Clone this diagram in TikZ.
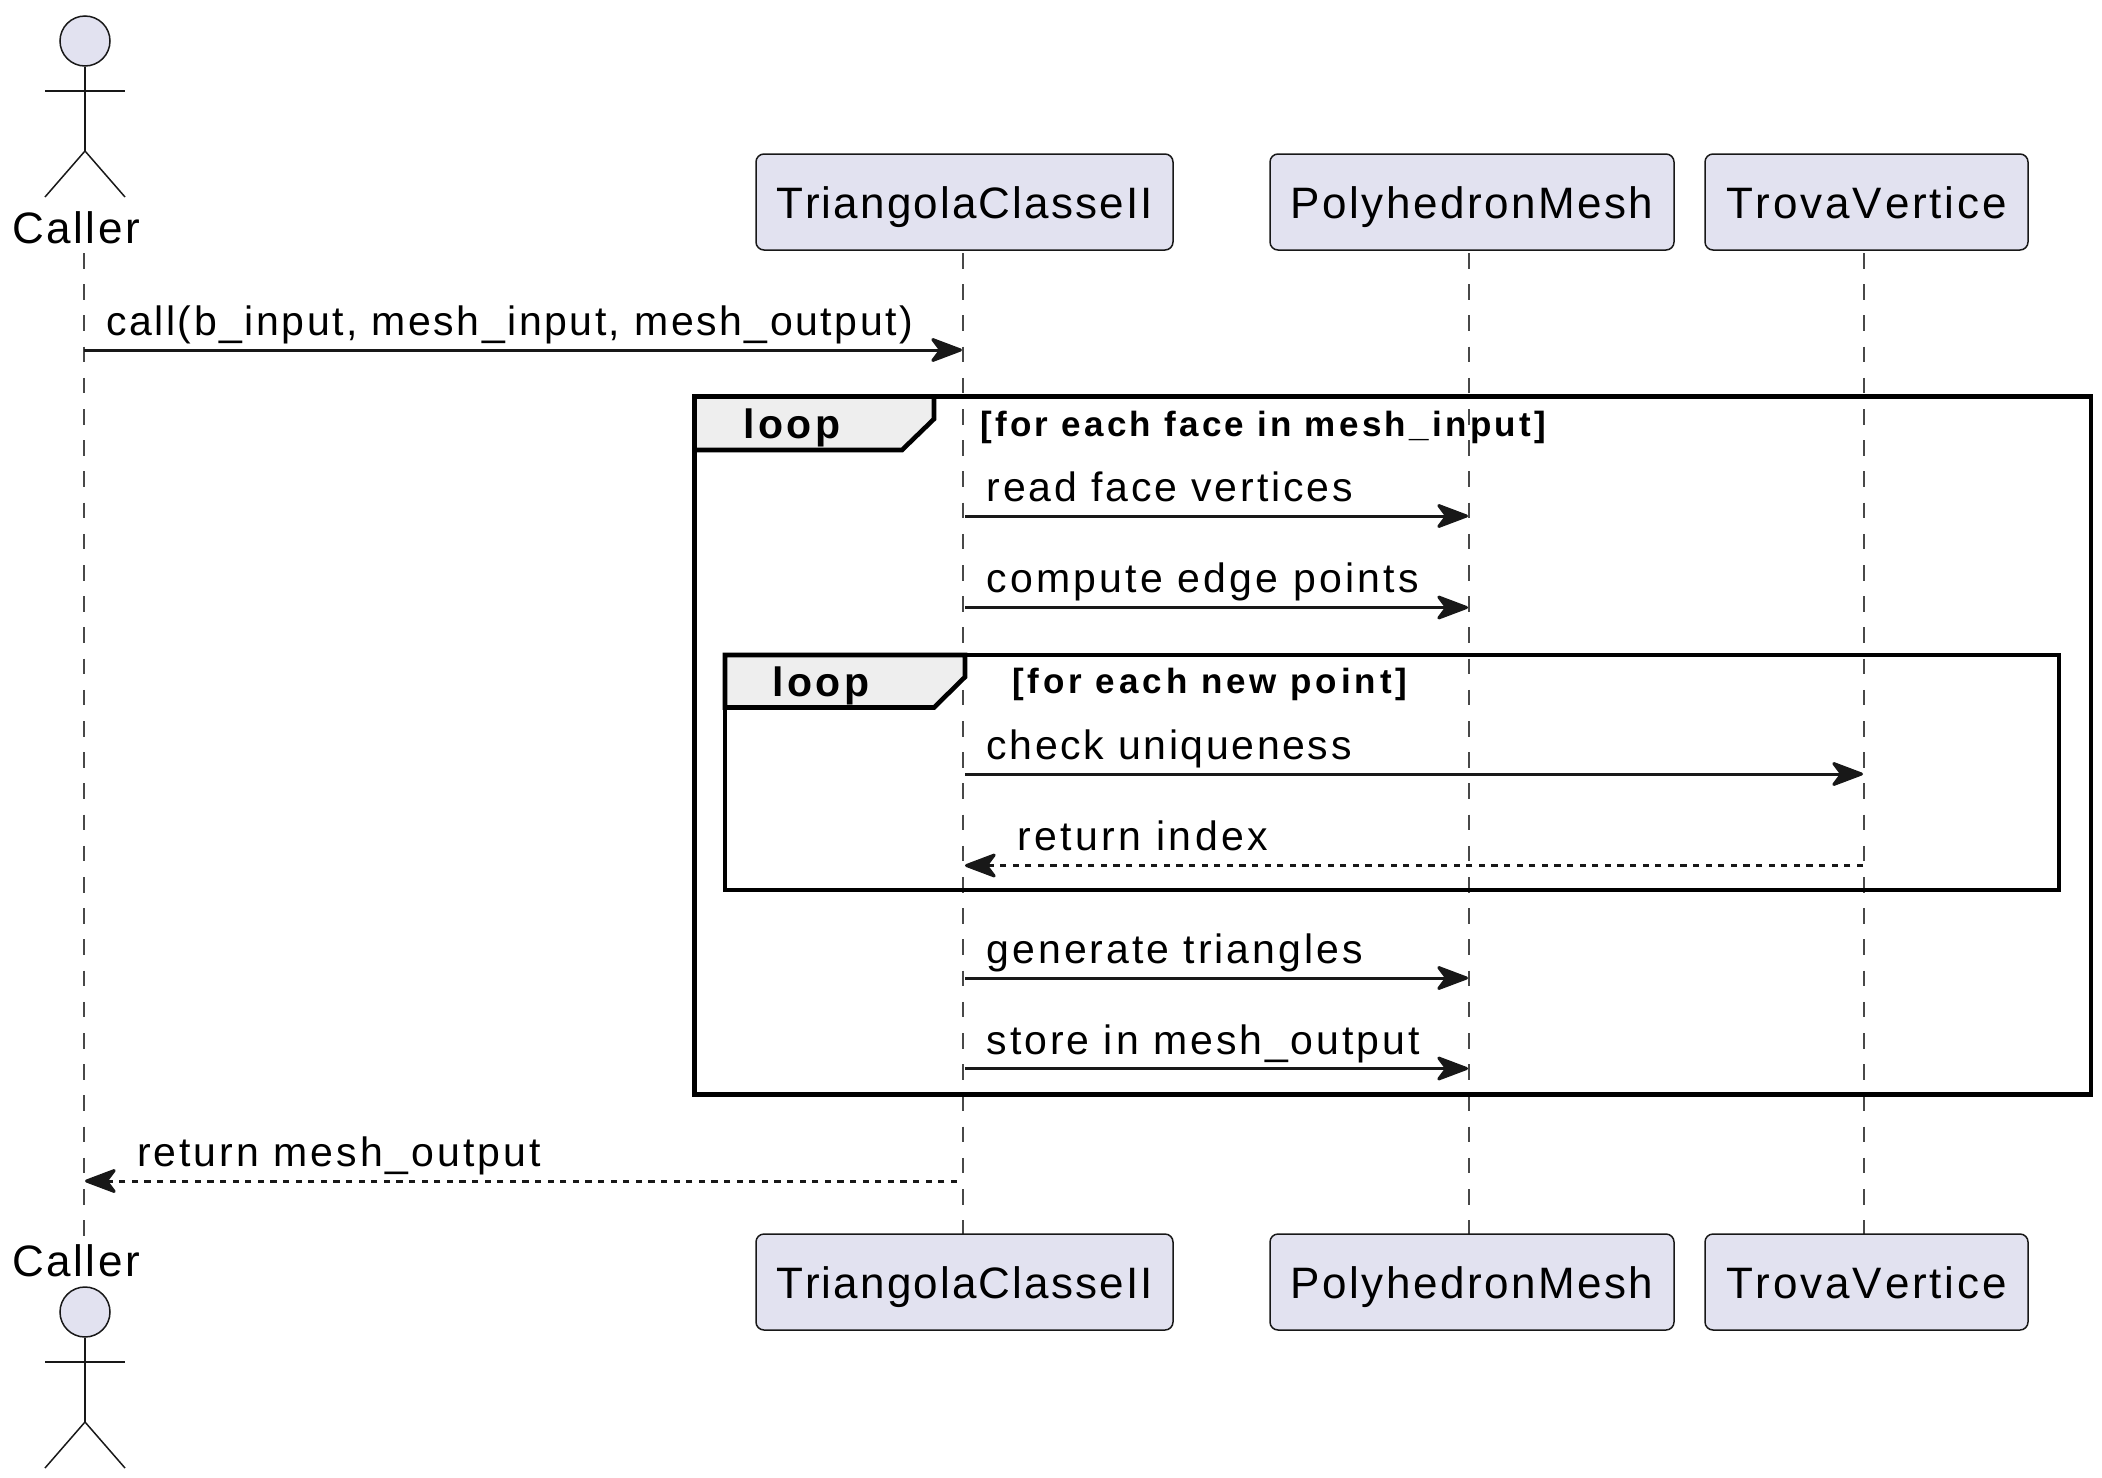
\documentclass[tikz,border=0pt]{standalone}
\usepackage{fontspec}
\setmainfont[Kerning=Off]{Liberation Sans}
\usetikzlibrary{arrows.meta}

\definecolor{partfill}{HTML}{E2E2F0}
\definecolor{partline}{HTML}{181818}
\definecolor{lifegray}{HTML}{484848}
\definecolor{tabfill}{HTML}{EEEEEE}

\tikzset{
	partbox/.style={draw=partline,fill=partfill,line width=1.5pt,rounded corners=8pt,inner sep=0pt,
		minimum height=96pt,text height=32pt,text depth=0pt,
		font=\fontsize{44}{48}\selectfont\addfontfeature{LetterSpace=#1}},
	actorline/.style={draw=partline,line width=1.5pt},
	actorname/.style={anchor=base west,inner sep=0pt,
		font=\fontsize{44}{48}\selectfont\addfontfeature{LetterSpace=5.8}},
	lifeline/.style={draw=lifegray,line width=1.5pt,dash pattern=on 15.6pt off 15.6pt},
	msg/.style={draw=partline,line width=3pt,-{Stealth[length=36pt,width=27pt,inset=10pt,round]}},
	msgback/.style={msg,dash pattern=on 6.3pt off 6.3pt},
	msgtext/.style={anchor=base west,inner sep=0pt,
		font=\fontsize{41}{45}\selectfont\addfontfeature{LetterSpace=#1}},
	frameline/.style={draw=black,line width=4.6pt},
	looptext/.style={anchor=base west,inner sep=0pt,
		font=\fontsize{41}{45}\selectfont\bfseries\addfontfeature{LetterSpace=9}},
	condtext/.style={anchor=base west,inner sep=0pt,
		font=\fontsize{35}{39}\selectfont\bfseries\addfontfeature{LetterSpace=#1}}
}

\begin{document}
\begin{tikzpicture}[x=1pt,y=-1pt]
	\useasboundingbox (0,0) rectangle (2102,1478);

	% lifelines
	\coordinate (calltop) at (84,253); \coordinate (callend) at (84,1236);
	\coordinate (tritop) at (963,253); \coordinate (triend) at (963,1234);
	\coordinate (polytop) at (1469,253); \coordinate (polyend) at (1469,1234);
	\coordinate (trovatop) at (1864,253); \coordinate (trovaend) at (1864,1234);
	\draw[lifeline] (calltop) -- (callend);
	\draw[lifeline] (tritop) -- (triend);
	\draw[lifeline] (polytop) -- (polyend);
	\draw[lifeline] (trovatop) -- (trovaend);

	% participants
	\node[partbox=4.9,minimum width=417pt] (tri) at (964.5,202) {TriangolaClasseII};
	\node[partbox=5.6,minimum width=404pt] (poly) at (1472,202) {PolyhedronMesh};
	\node[partbox=6.5,minimum width=323pt] (trova) at (1866.5,202) {TrovaVertice};
	\node[partbox=4.9,minimum width=417pt] (tribot) at (964.5,1282) {TriangolaClasseII};
	\node[partbox=5.6,minimum width=404pt] (polybot) at (1472,1282) {PolyhedronMesh};
	\node[partbox=6.5,minimum width=323pt] (trovabot) at (1866.5,1282) {TrovaVertice};

	% actor, top
	\node[actorline,fill=partfill,circle,inner sep=0pt,minimum size=50pt] (head) at (85,41) {};
	\coordinate (hip) at (85,151);
	\draw[actorline] (head.south) -- (hip);
	\draw[actorline] (45,91) -- (125,91);
	\draw[actorline] (45,197) -- (hip) -- (125,197);
	\node[actorname] (caller) at (12,243) {Caller};

	% actor, bottom
	\node[actorname] (callerbot) at (12,1276) {Caller};
	\node[actorline,fill=partfill,circle,inner sep=0pt,minimum size=50pt] (headbot) at (85,1312) {};
	\coordinate (hipbot) at (85,1422);
	\draw[actorline] (headbot.south) -- (hipbot);
	\draw[actorline] (45,1362) -- (125,1362);
	\draw[actorline] (45,1468) -- (hipbot) -- (125,1468);

	% outer loop
	\draw[frameline] (694.5,396.5) rectangle (2091,1094.5);
	\draw[frameline,fill=tabfill] (694.5,396.5) -- (934,396.5) -- (934,419) -- (902,450) -- (694.5,450) -- cycle;
	\node[looptext] (outerloop) at (743,438) {loop};
	\node[condtext=9.5] (outercond) at (980,436) {[for each face in mesh\_input]};

	% inner loop
	\draw[frameline] (725,655) rectangle (2059,890);
	\draw[frameline,fill=tabfill] (725,655) -- (965,655) -- (965,677) -- (934,707.5) -- (725,707.5) -- cycle;
	\node[looptext] (innerloop) at (772,696) {loop};
	\node[condtext=11.2] (innercond) at (1012,693) {[for each new point]};

	% messages
	\coordinate (m1a) at (84,350); \coordinate (m1b) at (962,350);
	\draw[msg] (m1a) -- (m1b);
	\node[msgtext=6.2] (m1) at (106,335) {call(b\_input, mesh\_input, mesh\_output)};

	\coordinate (m2a) at (965,516); \coordinate (m2b) at (1468,516);
	\draw[msg] (m2a) -- (m2b);
	\node[msgtext=6.9] (m2) at (986.5,501) {read face vertices};

	\coordinate (m3a) at (965,607.5); \coordinate (m3b) at (1468,607.5);
	\draw[msg] (m3a) -- (m3b);
	\node[msgtext=7.85] (m3) at (986.5,592) {compute edge points};

	\coordinate (m4a) at (965,774); \coordinate (m4b) at (1863,774);
	\draw[msg] (m4a) -- (m4b);
	\node[msgtext=6.4] (m4) at (986.5,759) {check uniqueness};

	\coordinate (m5a) at (1863,865.5); \coordinate (m5b) at (965,865.5);
	\draw[msgback] (m5a) -- (m5b);
	\node[msgtext=8.4] (m5) at (1017,850) {return index};

	\coordinate (m6a) at (965,978); \coordinate (m6b) at (1468,978);
	\draw[msg] (m6a) -- (m6b);
	\node[msgtext=7.3] (m6) at (986.5,963) {generate triangles};

	\coordinate (m7a) at (965,1068.5); \coordinate (m7b) at (1468,1068.5);
	\draw[msg] (m7a) -- (m7b);
	\node[msgtext=7.2] (m7) at (986.5,1054) {store in mesh\_output};

	\coordinate (m8a) at (957,1181); \coordinate (m8b) at (85,1181);
	\draw[msgback] (m8a) -- (m8b);
	\node[msgtext=7.3] (m8) at (137,1166) {return mesh\_output};
\end{tikzpicture}
\end{document}
